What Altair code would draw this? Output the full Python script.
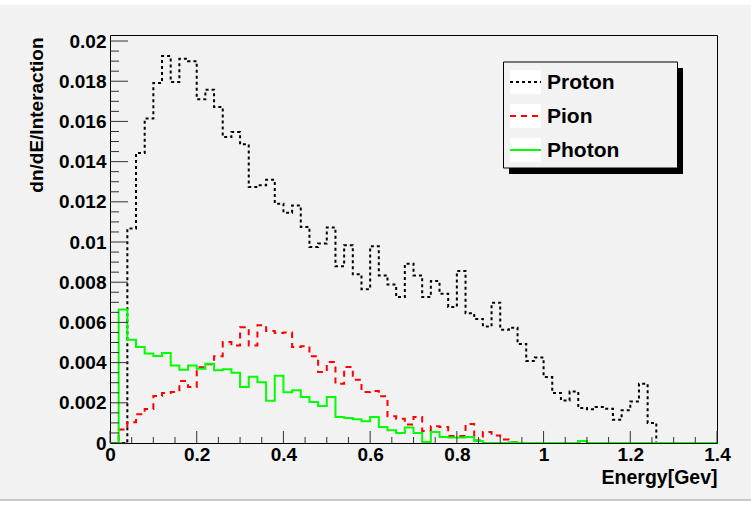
import altair as alt
import pandas as pd

# ---------------- data (histograms, 70 bins of 0.02 GeV from 0 to 1.4) ----------------
bin_width = 0.02
n_bins = 70

proton = [
    0, 0, 0.01067, 0.01443, 0.01614, 0.01791, 0.01925, 0.01796, 0.01912, 0.01900,
    0.01710, 0.01758, 0.01672, 0.01522, 0.01547, 0.01486, 0.01274, 0.01282, 0.01310, 0.01191,
    0.01146, 0.01182, 0.01075, 0.00975, 0.00992, 0.01072, 0.00879, 0.00984, 0.00839, 0.00765,
    0.00979, 0.00834, 0.00788, 0.00726, 0.00892, 0.00834, 0.00726, 0.00806, 0.00743, 0.00677,
    0.00856, 0.00645, 0.00617, 0.00580, 0.00698, 0.00564, 0.00574, 0.00493, 0.00408, 0.00425,
    0.00328, 0.00249, 0.00212, 0.00256, 0.00174, 0.00168, 0.00179, 0.00171, 0.00116, 0.00163,
    0.00207, 0.00295, 0.00100, 0, 0, 0, 0, 0, 0, 0,
]

pion = [
    0, 0.00067, 0.00103, 0.00143, 0.00169, 0.00234, 0.00249, 0.00254, 0.00308, 0.00279,
    0.00377, 0.00392, 0.00432, 0.00502, 0.00485, 0.00576, 0.00485, 0.00586, 0.00557, 0.00547,
    0.00550, 0.00478, 0.00481, 0.00432, 0.00353, 0.00403, 0.00295, 0.00378, 0.00315, 0.00254,
    0.00259, 0.00232, 0.00133, 0.00121, 0.00092, 0.00129, 0.00060, 0.00083, 0.00080, 0.00035,
    0.00035, 0.00094, 0.00012, 0.00055, 0.00037, 0.00018, 0.00005, 0, 0, 0,
    0, 0, 0, 0, 0.00008, 0, 0, 0, 0, 0,
    0, 0, 0, 0, 0, 0, 0, 0, 0, 0,
]

photon = [
    0, 0.00664, 0.00514, 0.00478, 0.00445, 0.00433, 0.00448, 0.00385, 0.00365, 0.00386,
    0.00370, 0.00394, 0.00362, 0.00367, 0.00349, 0.00279, 0.00330, 0.00302, 0.00210, 0.00335,
    0.00253, 0.00262, 0.00229, 0.00204, 0.00184, 0.00229, 0.00129, 0.00124, 0.00118, 0.00108,
    0.00129, 0.00080, 0.00063, 0.00050, 0.00077, 0.00050, 0.00005, 0.00055, 0.00030, 0.00027,
    0.00027, 0.00030, 0.00010, 0, 0, 0, 0.00004, 0, 0, 0,
    0, 0, 0, 0, 0.00010, 0, 0, 0, 0, 0,
    0, 0, 0, 0, 0, 0, 0, 0, 0, 0,
]

series_names = ["Proton", "Pion", "Photon"]
series_colors = ["#000000", "#ff0000", "#00ff00"]
series_dash = [[3, 3], [6, 5], [1, 0]]

x_ticks = [0, 0.2, 0.4, 0.6, 0.8, 1.0, 1.2, 1.4]
y_ticks = [0, 0.002, 0.004, 0.006, 0.008, 0.01, 0.012, 0.014, 0.016, 0.018, 0.02]
x_minor = [round(k * 0.05, 3) for k in range(29) if k % 4 != 0]
y_minor = [round(k * 0.0005, 5) for k in range(41) if k % 4 != 0]

# ---------------- build step tables ----------------
edges = [round(i * bin_width, 2) for i in range(n_bins + 1)]
rows = []
for name, vals in zip(series_names, [proton, pion, photon]):
    ys = list(vals) + [vals[-1]]
    for xe, yv in zip(edges, ys):
        rows.append({"x": xe, "y": yv, "series": name})
hist = pd.DataFrame(rows)

FONT = "Liberation Sans"
W, H = 607, 408
xscale = alt.Scale(domain=[0, 1.4], nice=False, zero=False)
yscale = alt.Scale(domain=[0, 0.0203], nice=False, zero=True)

dummy = pd.DataFrame({"a": [0]})

x_axis = alt.Axis(
    values=x_ticks, format="~g", ticks=False, domain=False, grid=False,
    labelFont=FONT, labelFontSize=19, labelFontWeight="bold", labelColor="black",
    labelPadding=2, labelFlush=False, labelOverlap=False,
    title="Energy[Gev]", titleFont=FONT, titleFontSize=19.5, titleFontWeight="bold",
    titleColor="black", titleAlign="right", titleX=W, titleY=34, titleBaseline="middle",
)
y_axis = alt.Axis(
    values=y_ticks, format="~g", ticks=False, domain=False, grid=False,
    labelFont=FONT, labelFontSize=19, labelFontWeight="bold", labelColor="black",
    labelPadding=4, labelFlush=False, labelOverlap=False,
    title="dn/dE/Interaction", titleFont=FONT, titleFontSize=19, titleFontWeight="bold",
    titleColor="black", titleAngle=270, titleAlign="right", titleX=-74, titleY=2,
    titleBaseline="middle",
)

layers = []

# canvas strips (white edges of the canvas)
layers.append(alt.Chart(dummy).mark_rect(color="white").encode(
    x=alt.value(-110), x2=alt.value(641), y=alt.value(-35), y2=alt.value(-30)))
layers.append(alt.Chart(dummy).mark_rect(color="white").encode(
    x=alt.value(-110), x2=alt.value(641), y=alt.value(465), y2=alt.value(474)))
layers.append(alt.Chart(dummy).mark_rule(color="#9a9a9a", strokeWidth=1).encode(
    x=alt.value(-110), x2=alt.value(641), y=alt.value(465)))

# histogram lines (first one carries the axes)
for i, (name, col, dash) in enumerate(zip(series_names, series_colors, series_dash)):
    base = alt.Chart(hist).transform_filter(alt.datum.series == name).mark_line(
        interpolate="step-after", color=col, strokeWidth=2, strokeDash=dash, clip=True)
    if i == 0:
        enc = base.encode(x=alt.X("x:Q", scale=xscale, axis=x_axis),
                          y=alt.Y("y:Q", scale=yscale, axis=y_axis))
    else:
        enc = base.encode(x=alt.X("x:Q", scale=xscale), y=alt.Y("y:Q", scale=yscale))
    layers.append(enc)

# inward ticks (ROOT style)
tick_col = "#333333"
layers.append(alt.Chart(pd.DataFrame({"y": y_ticks})).mark_rule(color=tick_col).encode(
    y=alt.Y("y:Q", scale=yscale), x=alt.value(0), x2=alt.value(18)))
layers.append(alt.Chart(pd.DataFrame({"y": y_minor})).mark_rule(color=tick_col).encode(
    y=alt.Y("y:Q", scale=yscale), x=alt.value(0), x2=alt.value(9)))
layers.append(alt.Chart(pd.DataFrame({"x": x_ticks})).mark_rule(color=tick_col).encode(
    x=alt.X("x:Q", scale=xscale), y=alt.value(H), y2=alt.value(H - 12)))
layers.append(alt.Chart(pd.DataFrame({"x": x_minor})).mark_rule(color=tick_col).encode(
    x=alt.X("x:Q", scale=xscale), y=alt.value(H), y2=alt.value(H - 6)))

# legend box with shadow
layers.append(alt.Chart(dummy).mark_rect(color="black").encode(
    x=alt.value(399), x2=alt.value(573), y=alt.value(33), y2=alt.value(139)))
layers.append(alt.Chart(dummy).mark_rect(fill="#f2f2f2", stroke="black", strokeWidth=1).encode(
    x=alt.value(393.5), x2=alt.value(567.5), y=alt.value(27), y2=alt.value(133)))
leg_y = [47, 81, 115]
for name, col, dash, yy in zip(series_names, series_colors, series_dash, leg_y):
    layers.append(alt.Chart(dummy).mark_rect(color="white").encode(
        x=alt.value(400), x2=alt.value(431), y=alt.value(yy - 12), y2=alt.value(yy + 12)))
    layers.append(alt.Chart(dummy).mark_rule(color=col, strokeWidth=2, strokeDash=dash).encode(
        x=alt.value(400), x2=alt.value(431), y=alt.value(yy)))
    layers.append(alt.Chart(dummy).mark_text(
        text=name, align="left", baseline="middle", font=FONT, fontSize=21,
        fontWeight="bold", color="black").encode(x=alt.value(437), y=alt.value(yy + 0.5)))

chart = alt.layer(*layers).properties(
    width=W, height=H,
    autosize=alt.AutoSizeParams(type="none"),
    padding={"left": 110, "top": 35, "right": 34, "bottom": 66},
).configure(background="#f2f2f2").configure_view(stroke="black", strokeWidth=1, fill="#f2f2f2")

chart.save("out.html", embed_options={"renderer": "svg", "actions": False})
